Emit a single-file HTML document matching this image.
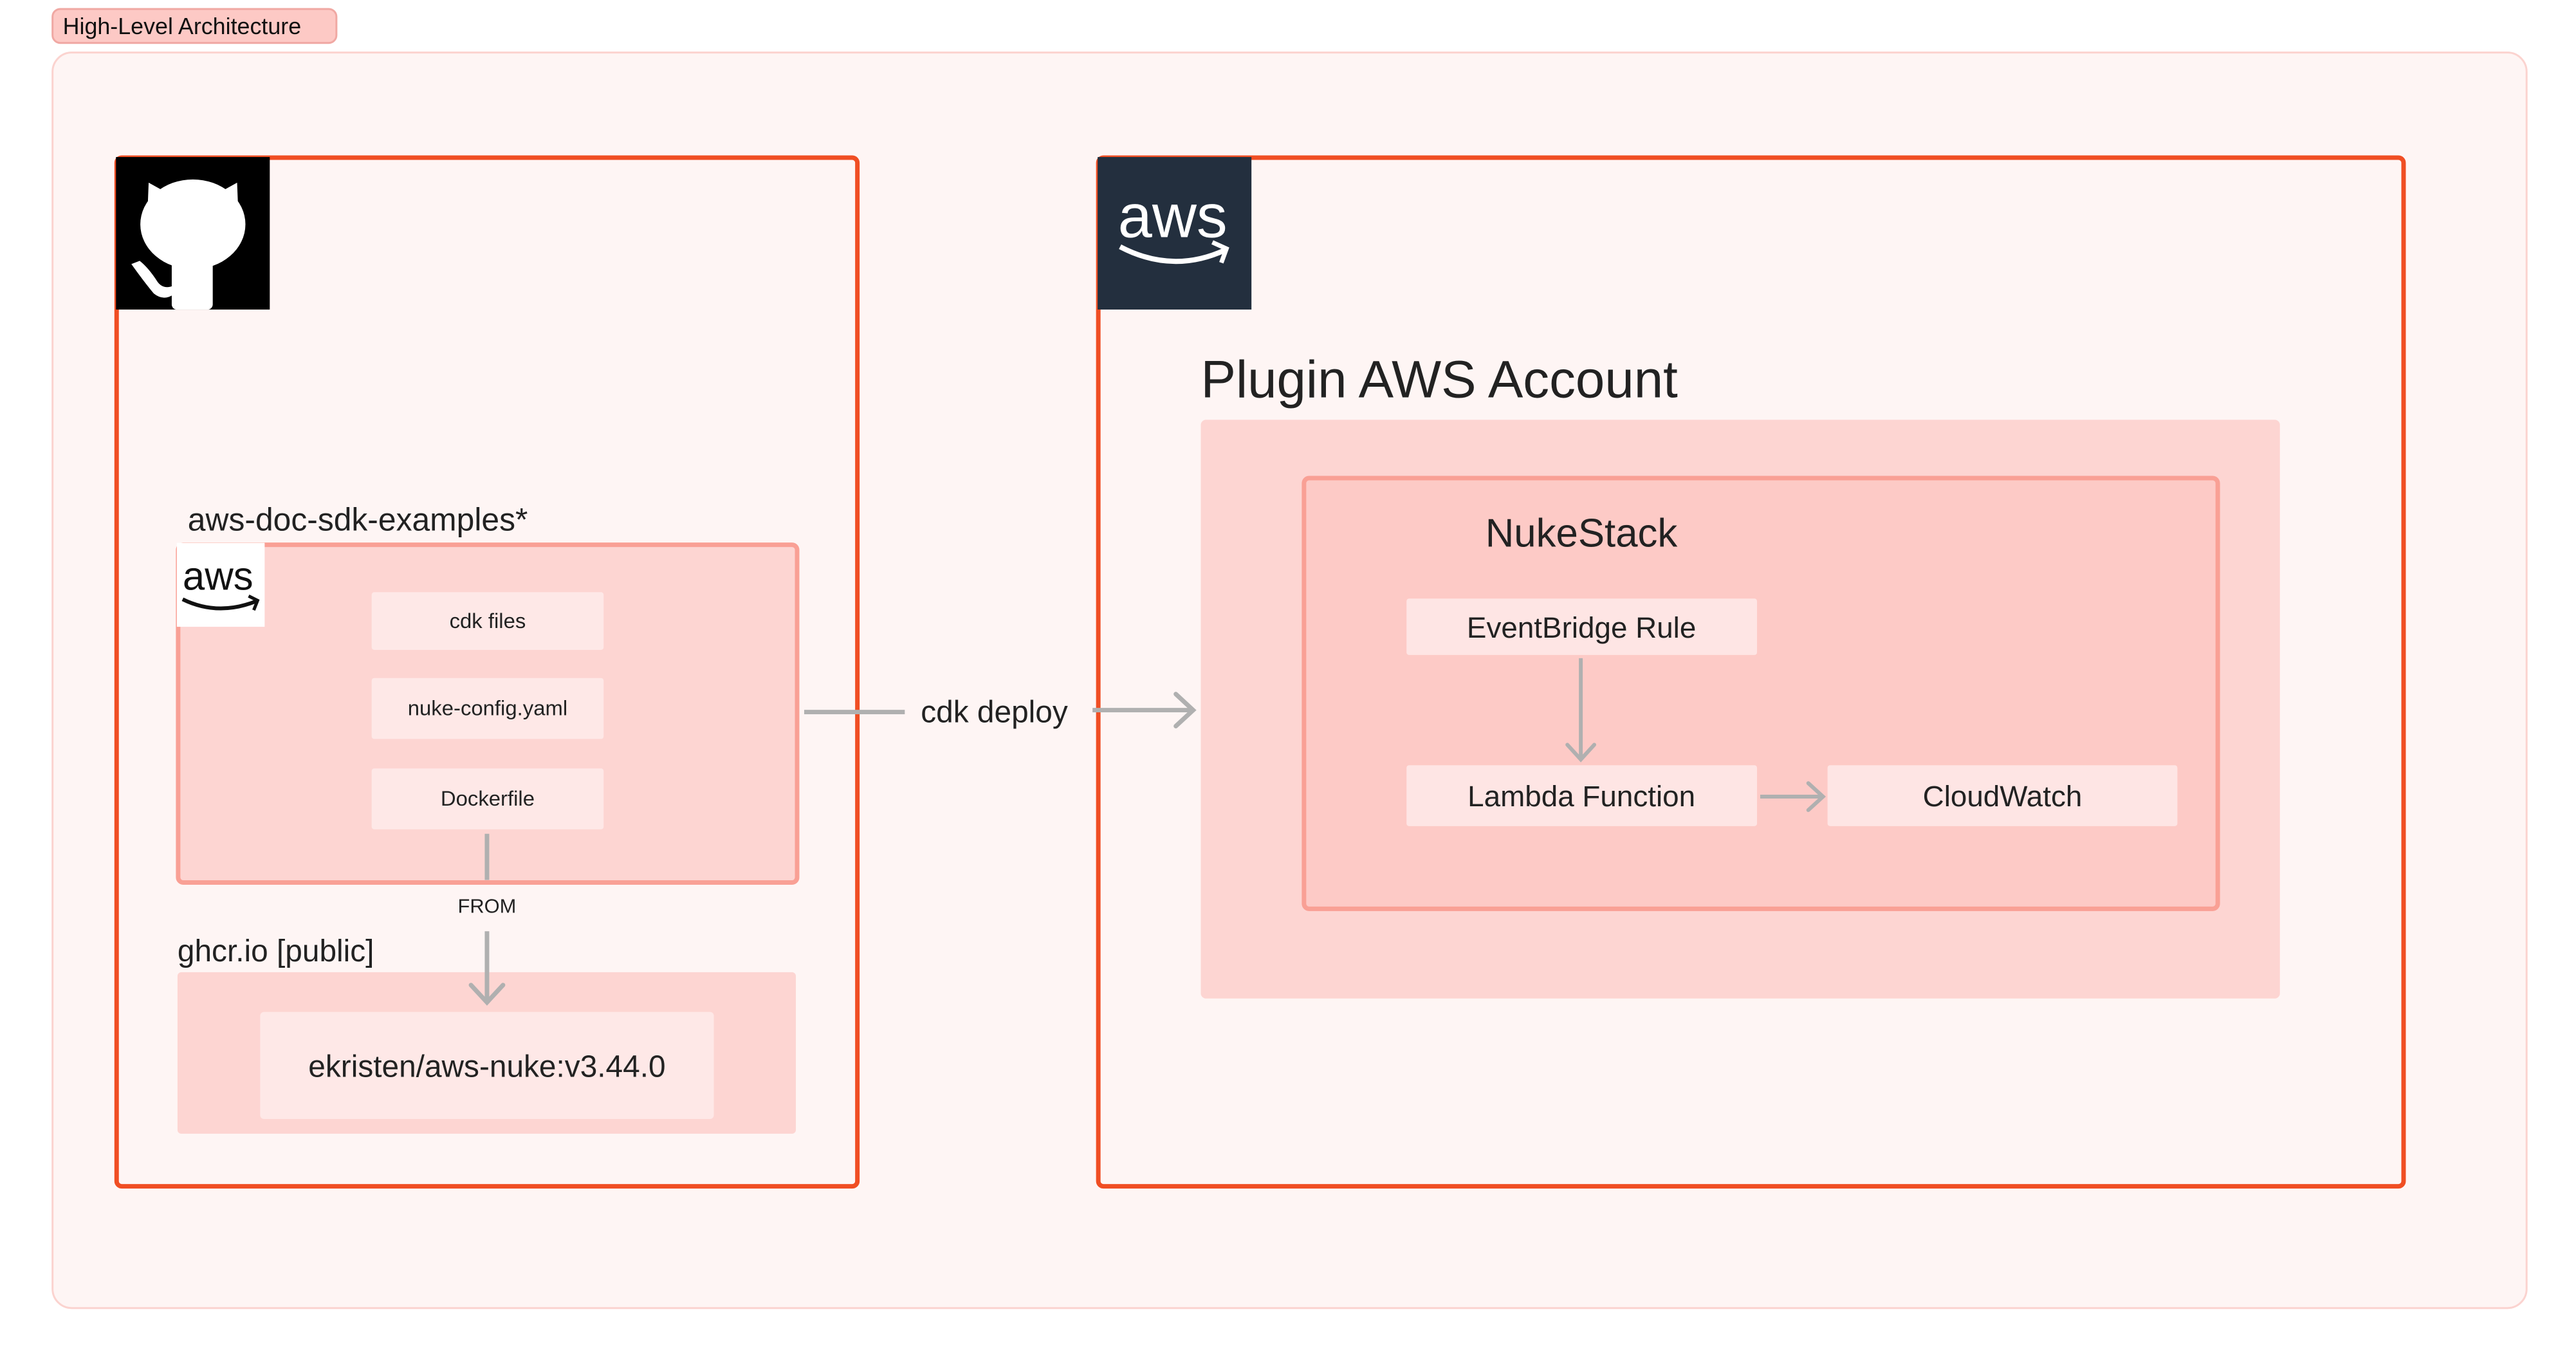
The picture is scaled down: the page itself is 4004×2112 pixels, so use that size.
<!DOCTYPE html>
<html><head><meta charset="utf-8"><style>
html,body{margin:0;padding:0;background:#fff;}
svg{display:block;}
text{font-family:"Liberation Sans",sans-serif;}
</style></head><body>
<svg width="4004" height="2112" viewBox="0 0 4004 2112" xmlns="http://www.w3.org/2000/svg">
<g transform="scale(0.996)">
<!-- title pill -->
<rect x="82" y="14" width="443" height="53" rx="12" fill="#fdc9c5" stroke="#f0a8a3" stroke-width="3"/>
<text x="98" y="53" font-size="36" fill="#111">High-Level Architecture</text>
<!-- outer container -->
<rect x="82" y="82" width="3861" height="1959" rx="30" fill="#fef5f4" stroke="#fbd3cf" stroke-width="3"/>

<!-- GitHub box -->
<rect x="182" y="246" width="1156" height="1605" rx="8" fill="#fef5f4" stroke="#f04e23" stroke-width="7"/>
<rect x="181" y="245" width="240" height="238" fill="#000"/>
<g fill="#fff">
  <ellipse cx="301" cy="350" rx="82" ry="70"/>
  <polygon points="230,335 232,285 268,305"/>
  <polygon points="372,335 370,285 334,305"/>
  <rect x="268" y="395" width="64" height="88" rx="8"/>
  <path d="M205,412 Q225,440 240,458 Q255,470 270,460 L270,446 Q255,452 246,440 Q232,418 218,407 Z"/>
</g>

<text x="293" y="828" font-size="50" fill="#222">aws-doc-sdk-examples*</text>
<rect x="278" y="850" width="966" height="527" rx="8" fill="#fdd5d2" stroke="#f9a095" stroke-width="7"/>
<rect x="276" y="847" width="137" height="131" fill="#fff"/>
<text x="285" y="920" font-size="62" fill="#111">aws</text>
<path d="M285,935 Q340,962 400,938" fill="none" stroke="#111" stroke-width="6"/>
<path d="M388,930 L402,937 L396,952" fill="none" stroke="#111" stroke-width="5"/>

<rect x="580" y="924" width="362" height="90" rx="4" fill="#fee8e7"/>
<text x="761" y="980" font-size="33" fill="#222" text-anchor="middle">cdk files</text>
<rect x="580" y="1058" width="362" height="95" rx="4" fill="#fee8e7"/>
<text x="761" y="1116" font-size="33" fill="#222" text-anchor="middle">nuke-config.yaml</text>
<rect x="580" y="1199" width="362" height="95" rx="4" fill="#fee8e7"/>
<text x="761" y="1257" font-size="33" fill="#222" text-anchor="middle">Dockerfile</text>

<text x="277" y="1500" font-size="48" fill="#222">ghcr.io [public]</text>
<rect x="277" y="1517" width="965" height="252" rx="6" fill="#fdd5d2"/>
<rect x="406" y="1579" width="708" height="167" rx="6" fill="#fee8e7"/>
<text x="760" y="1680" font-size="48" fill="#222" text-anchor="middle">ekristen/aws-nuke:v3.44.0</text>

<line x1="760" y1="1301" x2="760" y2="1373" stroke="#b0b0b0" stroke-width="7"/>
<text x="760" y="1424" font-size="31" fill="#222" text-anchor="middle">FROM</text>
<line x1="760" y1="1453" x2="760" y2="1562" stroke="#b0b0b0" stroke-width="7"/>
<polyline points="735,1537 760,1564 785,1537" fill="none" stroke="#b0b0b0" stroke-width="7" stroke-linecap="round"/>

<!-- AWS box -->
<rect x="1714" y="246" width="2037" height="1605" rx="8" fill="#fef5f4" stroke="#f04e23" stroke-width="7"/>
<rect x="1713" y="245" width="240" height="238" fill="#232f3e"/>
<text x="1830" y="370" font-size="96" fill="#fff" text-anchor="middle">aws</text>
<path d="M1748,385 Q1830,428 1912,390" fill="none" stroke="#fff" stroke-width="8"/>
<path d="M1892,378 L1914,388 L1906,410" fill="none" stroke="#fff" stroke-width="7"/>

<!-- cdk deploy -->
<line x1="1255" y1="1111" x2="1412" y2="1111" stroke="#b0b0b0" stroke-width="7"/>
<text x="1437" y="1127" font-size="48" fill="#222">cdk deploy</text>
<line x1="1705" y1="1108" x2="1860" y2="1108" stroke="#b0b0b0" stroke-width="7"/>
<polyline points="1835,1083 1862,1108 1835,1133" fill="none" stroke="#b0b0b0" stroke-width="7" stroke-linecap="round"/>

<text x="1874" y="620" font-size="82" fill="#222">Plugin AWS Account</text>
<rect x="1874" y="655" width="1684" height="903" rx="8" fill="#fdd5d2"/>
<rect x="2035" y="746" width="1426" height="672" rx="8" fill="#fdcac6" stroke="#f9a095" stroke-width="7"/>
<text x="2318" y="853" font-size="62" fill="#222">NukeStack</text>

<rect x="2195" y="934" width="547" height="88" rx="4" fill="#fee5e4"/>
<text x="2468" y="995" font-size="46" fill="#222" text-anchor="middle">EventBridge Rule</text>
<rect x="2195" y="1194" width="547" height="95" rx="4" fill="#fee5e4"/>
<text x="2468" y="1258" font-size="46" fill="#222" text-anchor="middle">Lambda Function</text>
<rect x="2852" y="1194" width="546" height="95" rx="4" fill="#fee5e4"/>
<text x="3125" y="1258" font-size="46" fill="#222" text-anchor="middle">CloudWatch</text>

<line x1="2467" y1="1027" x2="2467" y2="1183" stroke="#b0b0b0" stroke-width="6"/>
<polyline points="2446,1162 2467,1185 2488,1162" fill="none" stroke="#b0b0b0" stroke-width="6" stroke-linecap="round"/>
<line x1="2747" y1="1243" x2="2843" y2="1243" stroke="#b0b0b0" stroke-width="6"/>
<polyline points="2822,1222 2845,1243 2822,1264" fill="none" stroke="#b0b0b0" stroke-width="6" stroke-linecap="round"/>
</g>
</svg>
</body></html>
